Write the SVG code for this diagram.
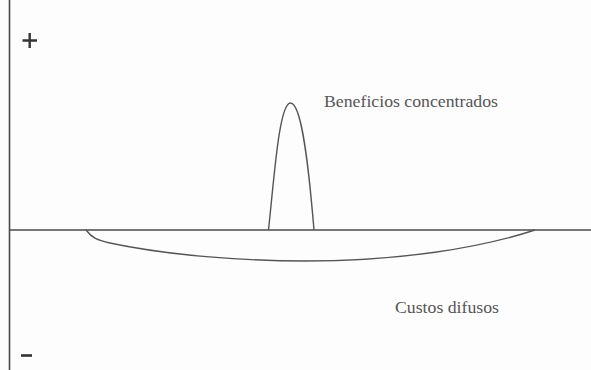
<svg xmlns="http://www.w3.org/2000/svg" width="591" height="370" viewBox="0 0 591 370">
<style>
.ln{fill:none;stroke:#4a4a4a;stroke-width:1.6}
.cv{fill:none;stroke:#555;stroke-width:1.4}
.lbl{font-family:"Liberation Serif",serif;font-size:17px;fill:#555}
.sym{font-family:"Liberation Sans",sans-serif;font-weight:bold;fill:#333}
</style>
<rect width="591" height="370" fill="#fdfdfd"/>
<g id="axes">
<line class="ln" x1="9.5" y1="0" x2="9.5" y2="370"/>
<line class="ln" x1="9" y1="230" x2="591" y2="230"/>
</g>
<g id="plus"><path d="M22.5 40.5H37M29.7 33V48" stroke="#333" stroke-width="2.4" fill="none"/></g>
<g id="minus"><line x1="21" y1="355.5" x2="32" y2="355.5" stroke="#333" stroke-width="2.6"/></g>
<g id="beneficios">
<path class="cv" d="M268.5 230 C274 180 279 103 290.5 103 C302 103 309 170 314 230"/>
<text class="lbl" x="324" y="107" textLength="174" lengthAdjust="spacingAndGlyphs">Beneficios concentrados</text>
</g>
<g id="custos">
<path class="cv" d="M86 230 C92 238 97 240 110 243 C170 256 250 261 305 261 C400 261 480 248 535 230"/>
<text class="lbl" x="395" y="313" textLength="104" lengthAdjust="spacingAndGlyphs">Custos difusos</text>
</g>
</svg>
